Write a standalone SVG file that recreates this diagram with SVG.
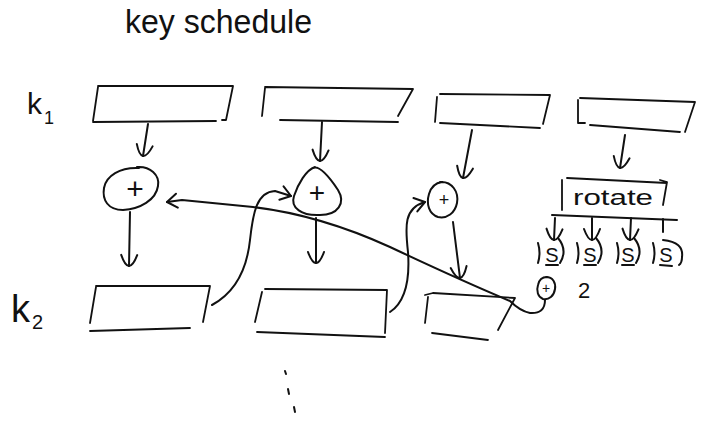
<svg xmlns="http://www.w3.org/2000/svg" width="711" height="424" viewBox="0 0 711 424">
  <defs>
    <style>
      .ink{fill:none;stroke:#111;stroke-width:2;stroke-linecap:round;stroke-linejoin:round}
      .box{fill:none;stroke:#111;stroke-width:1.8;stroke-linecap:round;stroke-linejoin:round}
      .hand{font-family:"Liberation Sans","DejaVu Sans",sans-serif;fill:#111}
      .mid{text-anchor:middle}
    </style>
    <!-- hand-drawn cup style arrowhead -->
    <marker id="cup" markerUnits="userSpaceOnUse" viewBox="-15 -15 30 30" markerWidth="30" markerHeight="30" refX="0" refY="0" orient="auto" overflow="visible">
      <path class="ink" d="M -11 -8 Q 11 0 -11 8"/>
    </marker>
    <!-- open chevron arrowhead -->
    <marker id="chev" markerUnits="userSpaceOnUse" viewBox="-15 -15 30 30" markerWidth="30" markerHeight="30" refX="0" refY="0" orient="auto" overflow="visible">
      <path class="ink" d="M -10 -7 L 0 0 L -10 7"/>
    </marker>
  </defs>

  <rect width="711" height="424" fill="#fff"/>

  <!-- title -->
  <g id="title">
    <text class="hand" x="125" y="33" font-size="34" textLength="187" lengthAdjust="spacingAndGlyphs">key schedule</text>
  </g>

  <!-- round key labels -->
  <g id="label-k1">
    <text class="hand" x="27" y="114" font-size="30">k</text>
    <text class="hand" x="44" y="124" font-size="18">1</text>
  </g>
  <g id="label-k2">
    <text class="hand" x="11" y="322" font-size="38">k</text>
    <text class="hand" x="32" y="329" font-size="20">2</text>
  </g>

  <!-- first round key words -->
  <g id="k1-w0"><path class="box" d="M98,87 L93,121 M98,86 L233,86 L226,120 L222,120 M93,122 L216,121"/></g>
  <g id="k1-w1"><path class="box" d="M265,88 L262,116 M265,87 L413,89 L398,116 M280,120 L398,122"/></g>
  <g id="k1-w2"><path class="box" d="M437,97 L435,122 M440,94 L550,95 L543,124 M440,123 L540,128"/></g>
  <g id="k1-w3"><path class="box" d="M578,100 L578,123 L585,123 M580,98 L695,102 L685,132 M590,125 L680,132"/></g>

  <!-- second round key words -->
  <g id="k2-w0"><path class="box" d="M96,287 L90,323 M96,286 L210,286 L203,322 M90,331 L190,328"/></g>
  <g id="k2-w1"><path class="box" d="M262,292 L255,322 M265,289 L387,290 L385,333 M257,332 L385,337"/></g>
  <g id="k2-w2"><path class="box" d="M425,295 L433,293 M428,297 L425,323 M433,293 L515,298 L498,330 M432,333 L488,340"/></g>

  <!-- xor nodes -->
  <g id="xor-0">
    <path class="ink" d="M137,167 C150,166 160,175 158,186 C156,200 140,209 123,210 C108,210 102,200 104,188 C106,176 120,167 139,168"/>
    <text class="hand mid" x="135" y="199" font-size="30">+</text>
  </g>
  <g id="xor-1">
    <path class="ink" d="M313,168 C320,165 330,178 338,190 C346,203 338,215 320,215 C302,216 290,208 294,196 C298,184 306,170 315,167"/>
    <text class="hand mid" x="317" y="202" font-size="28">+</text>
  </g>
  <g id="xor-2">
    <path class="ink" d="M440,182 C452,181 459,192 457,203 C455,213 447,219 438,217 C429,214 426,204 429,194 C431,187 435,183 442,182"/>
    <text class="hand mid" x="444" y="206" font-size="18">+</text>
  </g>

  <!-- g function: rotate, s-boxes, round constant -->
  <g id="rotate">
    <path class="box" d="M562,180 L562,210 M567,178 L667,183 M660,180 L667,182 L663,205"/>
    <text class="hand mid" x="613" y="205" font-size="22" textLength="80" lengthAdjust="spacingAndGlyphs">rotate</text>
  </g>
  <g id="sbox-0">
    <path class="ink" d="M538,243 Q541,253 538,263 M558,238 Q568,250 560,263 M546,265 L558,265"/>
    <text class="hand mid" x="552" y="262" font-size="20">S</text>
  </g>
  <g id="sbox-1">
    <path class="ink" d="M577,243 Q580,253 577,263 M596,238 Q606,250 598,263 M584,265 L596,265"/>
    <text class="hand mid" x="590" y="262" font-size="20">S</text>
  </g>
  <g id="sbox-2">
    <path class="ink" d="M617,243 Q620,253 617,263 M634,238 Q644,250 636,263 M622,265 L634,265"/>
    <text class="hand mid" x="628" y="262" font-size="20">S</text>
  </g>
  <g id="sbox-3">
    <path class="ink" d="M653,243 Q656,253 653,263 M663,240 Q684,242 682,257 Q682,263 679,265 M660,265 L672,266"/>
    <text class="hand mid" x="666" y="262" font-size="20">S</text>
  </g>
  <g id="rcon">
    <path class="ink" d="M546,277 C553,277 556,283 555,289 C554,296 549,300 543,299 C538,297 536,291 538,285 C539,280 542,277 547,277"/>
    <text class="hand mid" x="546" y="293" font-size="14">+</text>
    <text class="hand mid" x="584" y="298" font-size="22">2</text>
  </g>

  <!-- continuation marks -->
  <g id="more">
    <path class="ink" d="M285,371 L286,374 M288,389 L289,394 M294,407 L295,412"/>
  </g>

  <!-- connectors -->
  <g id="connectors">
    <path class="ink" marker-end="url(#cup)" d="M148,124 L143,156"/>
    <path class="ink" marker-end="url(#cup)" d="M322,122 L320,161"/>
    <path class="ink" marker-end="url(#cup)" d="M472,130 L463,178"/>
    <path class="ink" marker-end="url(#cup)" d="M625,135 L620,168"/>

    <path class="ink" marker-end="url(#cup)" d="M130,212 L129,266"/>
    <path class="ink" marker-end="url(#cup)" d="M316,218 L316,263"/>
    <path class="ink" marker-end="url(#cup)" d="M453,222 L460,278"/>

    <path class="ink" d="M552,215 L677,220"/>
    <path class="ink" marker-end="url(#cup)" d="M555,218 L554,240"/>
    <path class="ink" marker-end="url(#cup)" d="M592,218 L592,240"/>
    <path class="ink" marker-end="url(#cup)" d="M631,218 L630,240"/>
    <path class="ink" d="M663,219 L663,232"/>

    <path class="ink" marker-end="url(#chev)" d="M212,305 C236,292 247,268 250,240 C253,212 257,192 275,191 L291,196"/>
    <path class="ink" marker-end="url(#chev)" d="M390,312 C405,302 410,280 408,252 C405,226 404,208 425,202"/>
    <path class="ink" marker-end="url(#chev)" d="M545,300 Q545,314 530,313 Q520,311 510,301 Q460,280 390,247 Q320,215 253,207 L182,200 L167,202"/>
  </g>
</svg>
